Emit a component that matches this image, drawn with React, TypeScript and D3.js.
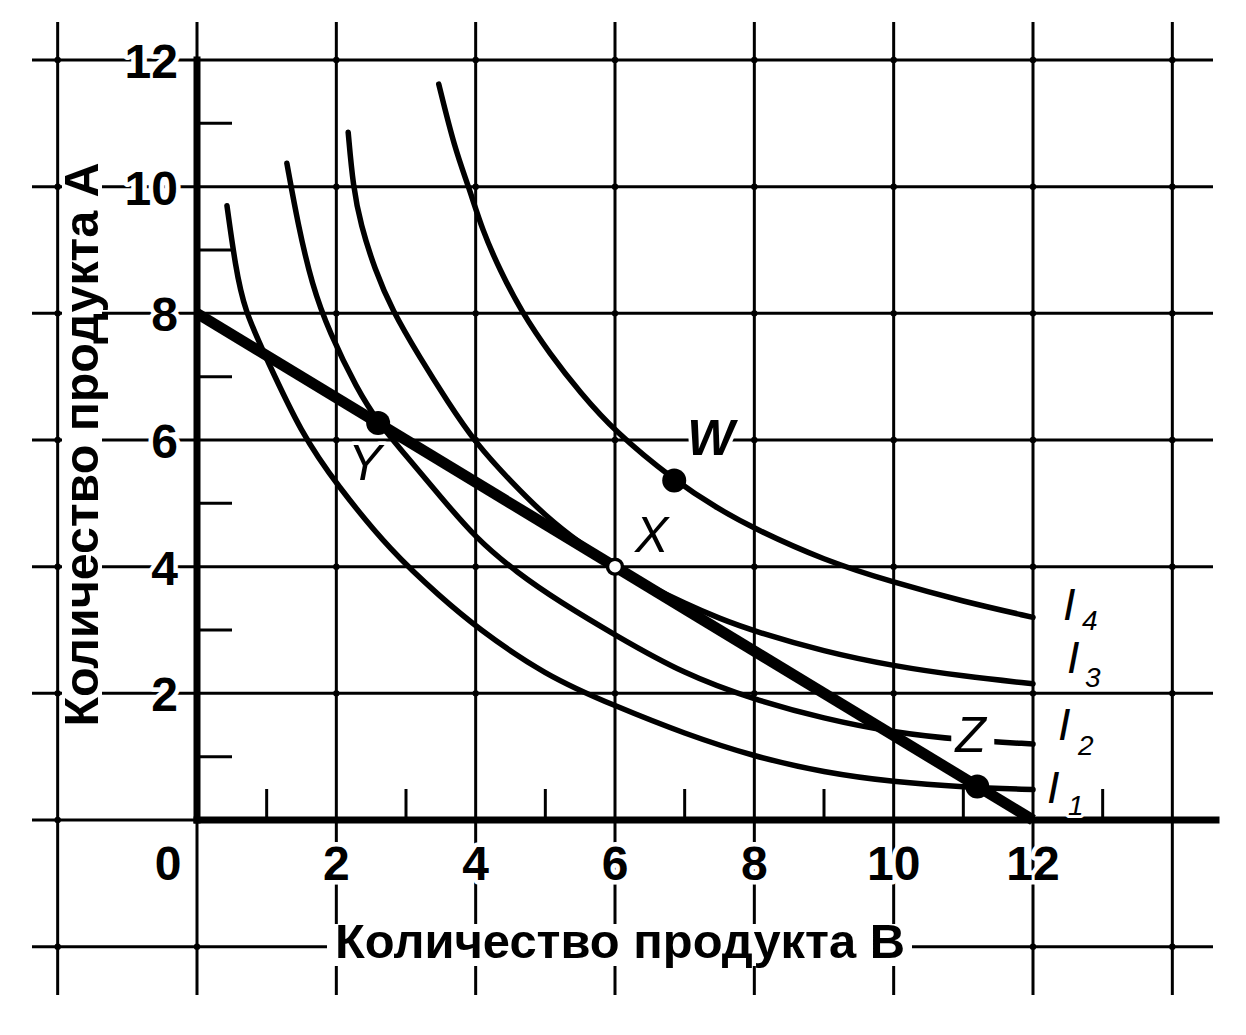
import React from 'react';
import * as d3 from 'd3';

// ---- data ----
const GRID_X = [-2, 0, 2, 4, 6, 8, 10, 12, 14];
const GRID_Y = [-2, 0, 2, 4, 6, 8, 10, 12];
const MINOR_X = [1, 3, 5, 7, 9, 11, 13];
const MINOR_Y = [1, 3, 5, 7, 9, 11];
const X_TICK_LABELS = [0, 2, 4, 6, 8, 10, 12];
const Y_TICK_LABELS = [2, 4, 6, 8, 10, 12];

const BUDGET: [number, number][] = [[0, 8], [12, 0]];

const I1: [number, number][] = [
  [0.43, 9.7], [0.55, 8.75], [0.68, 8.05], [1.0, 7.28], [1.5, 6.1], [2.0, 5.3], [2.8, 4.22],
  [3.5, 3.52], [4.0, 3.05], [5.0, 2.28], [6.0, 1.8], [7.0, 1.36], [8.0, 1.0], [9.0, 0.75],
  [10.0, 0.6], [11.0, 0.52], [12.0, 0.48],
];
const I2: [number, number][] = [
  [1.29, 10.37], [1.45, 9.4], [1.65, 8.45], [1.9, 7.7], [2.3, 6.8], [2.6, 6.28], [3.0, 5.75],
  [3.5, 5.1], [4.0, 4.45], [4.6, 3.9], [5.2, 3.45], [6.0, 2.92], [7.0, 2.3], [8.0, 1.9],
  [9.0, 1.6], [10.0, 1.38], [11.0, 1.26], [12.0, 1.2],
];
const I3: [number, number][] = [
  [2.17, 10.86], [2.24, 10.0], [2.35, 9.4], [2.55, 8.7], [2.8, 8.05], [3.2, 7.3], [3.6, 6.6],
  [4.0, 5.95], [4.5, 5.35], [5.0, 4.8], [5.5, 4.37], [6.0, 4.0], [6.5, 3.69], [7.0, 3.42],
  [7.5, 3.18], [8.0, 2.98], [9.0, 2.66], [10.0, 2.43], [11.0, 2.27], [12.0, 2.15],
];
const I4: [number, number][] = [
  [3.47, 11.62], [3.7, 10.6], [3.9, 10.0], [4.1, 9.3], [4.35, 8.68], [4.65, 8.04], [5.07, 7.35],
  [5.5, 6.75], [6.0, 6.13], [6.85, 5.36], [7.5, 4.9], [8.0, 4.6], [9.0, 4.1], [10.0, 3.75],
  [11.0, 3.45], [12.0, 3.2],
];
const CURVES = [I1, I2, I3, I4];
const CURVE_SUBSCRIPTS = ['1', '2', '3', '4'];

const POINT_NAMES = ['W', 'X', 'Y', 'Z'];
const POINT_VALUES: [number, number][] = [[6.85, 5.36], [6, 4], [2.6, 6.27], [11.2, 0.53]];

const X_TITLE = 'Количество продукта В';
const Y_TITLE = 'Количество продукта А';

// ---- layout (pixels) ----
const WIDTH = 1246;
const HEIGHT = 1035;
const FONT = "'Liberation Sans', Arial, Helvetica, sans-serif";
const POINT_LABEL_OFFSETS: [number, number][] = [[13, -26], [20, -15], [-30, 57], [-22, -34]];
const POINT_FILLED = [true, false, true, true];
const POINT_BOLD = [true, false, false, false];
// curve label offsets relative to the curve end at x=12 : [dxI, dyI, dxSub, dySub]
const CURVE_LABEL_OFFSETS: [number, number, number, number][] = [
  [14, 13, 35, 25],
  [25, -4, 45, 11],
  [34, -11, 52, 3],
  [30, 3, 49, 13],
];

export default function App() {
  const x = d3.scaleLinear().domain([0, 12]).range([197, 1033]);
  const y = d3.scaleLinear().domain([0, 12]).range([820, 60]);

  const curveLine = d3
    .line<[number, number]>()
    .x((d) => x(d[0]))
    .y((d) => y(d[1]))
    .curve(d3.curveBasis);
  const straight = d3
    .line<[number, number]>()
    .x((d) => x(d[0]))
    .y((d) => y(d[1]));

  const gridLeft = 32;
  const gridRight = 1213;
  const gridTop = 22;
  const gridBottom = 995;

  const halo = {
    paintOrder: 'stroke' as const,
    stroke: '#fff',
    strokeWidth: 9,
    strokeLinejoin: 'round' as const,
  };

  return (
    <svg
      width={WIDTH}
      height={HEIGHT}
      style={{ position: 'absolute', left: 0, top: 0, background: '#fff' }}
      fontFamily={FONT}
    >
      <rect x={0} y={0} width={WIDTH} height={HEIGHT} fill="#fff" />
      {/* grid */}
      <g stroke="#000" strokeWidth={3}>
        {GRID_X.map((v) => (
          <line key={'gx' + v} x1={x(v)} x2={x(v)} y1={gridTop} y2={gridBottom} />
        ))}
        {GRID_Y.map((v) => (
          <line key={'gy' + v} x1={gridLeft} x2={gridRight} y1={y(v)} y2={y(v)} />
        ))}
      </g>
      {/* intersection nodes */}
      <g fill="#000">
        {GRID_X.map((vx) =>
          GRID_Y.map((vy) => <circle key={`n${vx}_${vy}`} cx={x(vx)} cy={y(vy)} r={3.2} />)
        )}
      </g>
      {/* axes */}
      <g stroke="#000" strokeWidth={7} strokeLinecap="square">
        <line x1={x(0)} x2={x(0)} y1={y(0)} y2={y(12)} />
        <line x1={x(0)} x2={1216} y1={y(0)} y2={y(0)} />
      </g>
      {/* minor ticks */}
      <g stroke="#000" strokeWidth={3}>
        {MINOR_Y.map((v) => (
          <line key={'my' + v} x1={x(0)} x2={x(0) + 35} y1={y(v)} y2={y(v)} />
        ))}
        {MINOR_X.map((v) => (
          <line key={'mx' + v} x1={x(v)} x2={x(v)} y1={y(0)} y2={y(0) - 31} />
        ))}
      </g>
      {/* axis titles with white backgrounds */}
      <rect x={62} y={158} width={40} height={577} fill="#fff" />
      <text
        transform={`translate(98, ${(158 + 735) / 2 - 2}) rotate(-90)`}
        textAnchor="middle"
        fontSize={48}
        fontWeight="bold"
        textLength={564}
        lengthAdjust="spacingAndGlyphs"
      >
        {Y_TITLE}
      </text>
      <rect x={327} y={924} width={585} height={42} fill="#fff" />
      <text
        x={620}
        y={958}
        textAnchor="middle"
        fontSize={48}
        fontWeight="bold"
        textLength={570}
        lengthAdjust="spacingAndGlyphs"
      >
        {X_TITLE}
      </text>
      {/* tick labels */}
      <g fontSize={48} fontWeight="bold" fill="#000">
        {X_TICK_LABELS.map((v) => (
          <text
            key={'xl' + v}
            x={v === 0 ? x(0) - 29 : x(v)}
            y={880}
            textAnchor="middle"
            style={halo}
          >
            {v}
          </text>
        ))}
        {Y_TICK_LABELS.map((v) => (
          <text key={'yl' + v} x={178} y={y(v) + 18} textAnchor="end" style={halo}>
            {v}
          </text>
        ))}
      </g>
      {/* indifference curves */}
      <g fill="none" stroke="#000" strokeWidth={5.5} strokeLinecap="round" strokeLinejoin="round">
        {CURVES.map((c, i) => (
          <path key={'c' + i} d={curveLine(c) || ''} />
        ))}
      </g>
      {/* budget line */}
      <path d={straight(BUDGET) || ''} fill="none" stroke="#000" strokeWidth={11} strokeLinecap="butt" />
      {/* points */}
      {POINT_VALUES.map((p, i) =>
        POINT_FILLED[i] ? (
          <circle key={'p' + i} cx={x(p[0])} cy={y(p[1])} r={12} fill="#000" />
        ) : (
          <circle key={'p' + i} cx={x(p[0])} cy={y(p[1])} r={7.5} fill="#fff" stroke="#000" strokeWidth={3.5} />
        )
      )}
      {/* point labels */}
      {POINT_VALUES.map((p, i) => {
        const lx = x(p[0]) + POINT_LABEL_OFFSETS[i][0];
        const ly = y(p[1]) + POINT_LABEL_OFFSETS[i][1];
        const isZ = POINT_NAMES[i] === 'Z';
        return (
          <g key={'pl' + i}>
            {isZ && <rect x={lx - 4} y={ly - 41} width={43} height={45} fill="#fff" />}
            <text
              x={lx}
              y={ly}
              fontSize={50}
              fontStyle="italic"
              fontWeight={POINT_BOLD[i] ? 'bold' : 'normal'}
              style={isZ ? undefined : { ...halo, strokeWidth: 7 }}
            >
              {POINT_NAMES[i]}
            </text>
          </g>
        );
      })}
      {/* curve labels */}
      {CURVES.map((c, i) => {
        const end = c[c.length - 1];
        const ex = x(end[0]);
        const ey = y(end[1]);
        const o = CURVE_LABEL_OFFSETS[i];
        return (
          <g key={'cl' + i} fill="#000" style={{ ...halo, strokeWidth: 6 }}>
            <text x={ex + o[0]} y={ey + o[1]} fontSize={45} fontStyle="italic">
              I
            </text>
            <text x={ex + o[2]} y={ey + o[3]} fontSize={28} fontStyle="italic">
              {CURVE_SUBSCRIPTS[i]}
            </text>
          </g>
        );
      })}
    </svg>
  );
}
